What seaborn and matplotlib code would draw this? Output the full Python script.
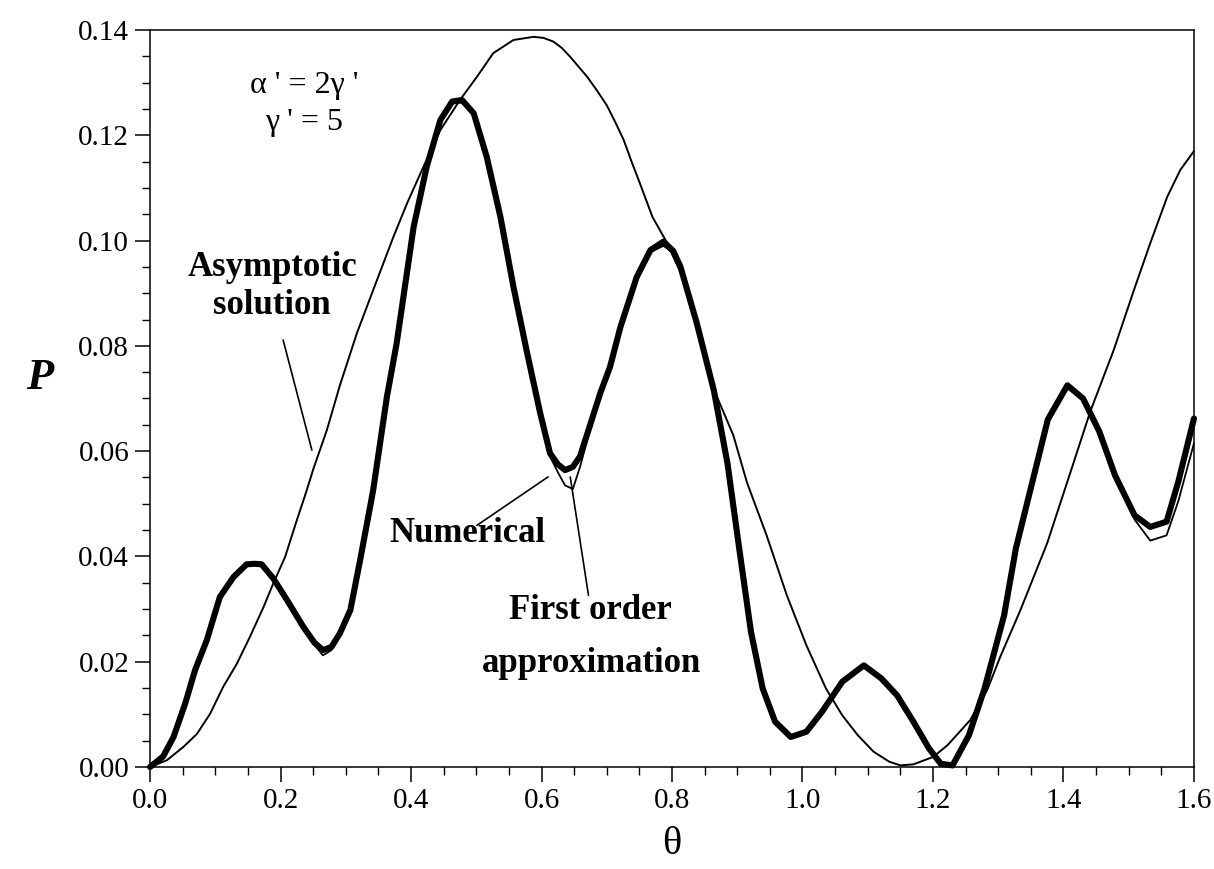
import numpy as np
import pandas as pd
import matplotlib
matplotlib.use("Agg")
import matplotlib.pyplot as plt
import seaborn as sns
from matplotlib.ticker import MultipleLocator, FormatStrFormatter

# Numerical solution
num_theta = [0.0, 0.02, 0.036, 0.054, 0.069, 0.087, 0.107, 0.128, 0.148, 0.160,
             0.171, 0.189, 0.21, 0.235, 0.252, 0.265, 0.278, 0.291, 0.307, 0.322,
             0.342, 0.363, 0.378, 0.404, 0.424, 0.445, 0.463, 0.478, 0.496, 0.516,
             0.537, 0.557, 0.578, 0.598, 0.613, 0.625, 0.636, 0.648, 0.659, 0.672,
             0.69, 0.705, 0.721, 0.746, 0.767, 0.787, 0.802, 0.813, 0.838, 0.864,
             0.885, 0.903, 0.921, 0.939, 0.958, 0.982, 1.006, 1.030, 1.061, 1.094,
             1.121, 1.145, 1.170, 1.194, 1.212, 1.230, 1.255, 1.279, 1.309, 1.327,
             1.352, 1.376, 1.406, 1.430, 1.455, 1.479, 1.509, 1.533, 1.558, 1.576,
             1.600]
num_P = [0.0, 0.002, 0.0057, 0.0121, 0.0184, 0.0241, 0.0323, 0.0361, 0.0385, 0.0386,
         0.0385, 0.0358, 0.0317, 0.0266, 0.0236, 0.0222, 0.0228, 0.0254, 0.0298, 0.0393,
         0.0526, 0.0703, 0.0805, 0.1026, 0.1140, 0.1229, 0.1264, 0.1267, 0.1242, 0.1159,
         0.1045, 0.0912, 0.0786, 0.0672, 0.0596, 0.0575, 0.0564, 0.0570, 0.0590, 0.0640,
         0.0710, 0.0760, 0.0836, 0.0931, 0.0982, 0.0998, 0.0980, 0.0950, 0.0843, 0.0716,
         0.0577, 0.0415, 0.0257, 0.0149, 0.0086, 0.0057, 0.0067, 0.0105, 0.0162, 0.0193,
         0.0168, 0.0136, 0.0086, 0.0035, 0.0006, 0.0003, 0.0060, 0.0149, 0.0288, 0.0415,
         0.0540, 0.0660, 0.0725, 0.0700, 0.0637, 0.0554, 0.0478, 0.0456, 0.0466, 0.0542,
         0.0662]

# First order approximation (same theta grid)
fo_P = [0.0, 0.002, 0.0057, 0.0121, 0.0184, 0.0241, 0.0323, 0.0361, 0.0385, 0.0386,
        0.0385, 0.0358, 0.0317, 0.0264, 0.0232, 0.0212, 0.0222, 0.0252, 0.0298, 0.0393,
        0.0526, 0.0703, 0.0805, 0.1026, 0.1140, 0.1229, 0.1262, 0.1262, 0.1240, 0.1159,
        0.1045, 0.0912, 0.0786, 0.0672, 0.0590, 0.0560, 0.0535, 0.0528, 0.0570, 0.0630,
        0.0705, 0.0760, 0.0836, 0.0931, 0.0978, 0.0990, 0.0976, 0.0950, 0.0843, 0.0716,
        0.0577, 0.0415, 0.0257, 0.0149, 0.0086, 0.0057, 0.0067, 0.0105, 0.0162, 0.0191,
        0.0168, 0.0136, 0.0086, 0.0035, 0.0006, 0.0003, 0.0060, 0.0149, 0.0288, 0.0415,
        0.0540, 0.0660, 0.0722, 0.0700, 0.0637, 0.0554, 0.0470, 0.0430, 0.0440, 0.0505,
        0.0615]

# Asymptotic solution
as_theta = [0.0, 0.026, 0.051, 0.072, 0.092, 0.112, 0.133, 0.153, 0.174, 0.189,
            0.207, 0.225, 0.240, 0.250, 0.271, 0.291, 0.317, 0.342, 0.373, 0.394,
            0.419, 0.445, 0.475, 0.501, 0.526, 0.557, 0.588, 0.603, 0.618, 0.631,
            0.644, 0.657, 0.670, 0.685, 0.700, 0.713, 0.726, 0.738, 0.751, 0.770,
            0.790, 0.815, 0.840, 0.869, 0.894, 0.915, 0.945, 0.976, 1.006, 1.036,
            1.061, 1.085, 1.109, 1.133, 1.150, 1.170, 1.200, 1.222, 1.257, 1.283,
            1.303, 1.334, 1.375, 1.416, 1.441, 1.477, 1.508, 1.533, 1.559, 1.579,
            1.600]
as_P = [0.0, 0.0013, 0.0038, 0.0063, 0.0101, 0.0152, 0.0196, 0.0247, 0.0304, 0.0349,
        0.0399, 0.0469, 0.0525, 0.0565, 0.0640, 0.0725, 0.0824, 0.0906, 0.1007, 0.1071,
        0.1140, 0.1210, 0.1267, 0.1311, 0.1356, 0.1381, 0.1387, 0.1385, 0.1378, 0.1366,
        0.1349, 0.1330, 0.1311, 0.1285, 0.1257, 0.1225, 0.1191, 0.1150, 0.1108, 0.1045,
        0.1001, 0.0935, 0.0825, 0.0703, 0.0630, 0.0540, 0.0440, 0.0326, 0.0231, 0.0149,
        0.0098, 0.0060, 0.0029, 0.0010, 0.0003, 0.0005, 0.0019, 0.0041, 0.0089, 0.0146,
        0.0209, 0.0298, 0.0425, 0.0580, 0.0675, 0.0792, 0.0906, 0.0995, 0.1083, 0.1134,
        0.1170]

num_df = pd.DataFrame({"theta": num_theta, "P": num_P})
fo_df = pd.DataFrame({"theta": num_theta, "P": fo_P})
as_df = pd.DataFrame({"theta": as_theta, "P": as_P})

sns.set_theme(style="ticks")
plt.rcParams["font.family"] = ["Liberation Serif", "DejaVu Serif"]
plt.rcParams["axes.linewidth"] = 1.1
plt.rcParams["text.color"] = "black"
plt.rcParams["axes.labelcolor"] = "black"
plt.rcParams["xtick.color"] = "black"
plt.rcParams["ytick.color"] = "black"

fig = plt.figure(figsize=(12.14, 8.69), dpi=100)
ax = fig.add_axes([0.1236, 0.1174, 0.8599, 0.8481])

line_kw = dict(ax=ax, x="theta", y="P", color="black", estimator=None,
               sort=False, clip_on=False, solid_joinstyle="round",
               solid_capstyle="round")
sns.lineplot(data=as_df, lw=1.4, **line_kw)
sns.lineplot(data=num_df, lw=4.4, **line_kw)
sns.lineplot(data=fo_df, lw=1.3, **line_kw)

ax.set_xlim(0, 1.6)
ax.set_ylim(0, 0.14)
ax.xaxis.set_major_locator(MultipleLocator(0.2))
ax.xaxis.set_minor_locator(MultipleLocator(0.05))
ax.yaxis.set_major_locator(MultipleLocator(0.02))
ax.yaxis.set_minor_locator(MultipleLocator(0.005))
ax.xaxis.set_major_formatter(FormatStrFormatter("%.1f"))
ax.yaxis.set_major_formatter(FormatStrFormatter("%.2f"))
ax.tick_params(which="major", direction="out", length=11, width=1.1,
               labelsize=21, colors="black", pad=4)
ax.tick_params(which="minor", direction="out", length=6, width=1.0, colors="black")
for s in ax.spines.values():
    s.set_visible(True)
    s.set_color("black")

ax.set_xlabel("θ", fontsize=29, va="center")
ax.xaxis.set_label_coords(0.5, -0.105)
ax.set_ylabel("P", fontsize=32, fontweight="bold", fontstyle="italic",
              rotation=0, va="center", ha="center")
ax.yaxis.set_label_coords(-0.106, 0.528)

# Parameter labels
ax.text(0.236, 0.1295, "α ' = 2γ '", fontsize=23, ha="center", va="center")
ax.text(0.236, 0.1225, "γ ' = 5", fontsize=23, ha="center", va="center")

# Curve labels with leader lines
bold = dict(fontsize=25, fontweight="bold", ha="center", va="center")
ax.text(0.187, 0.0949, "Asymptotic", **bold)
ax.text(0.187, 0.0877, "solution", **bold)
ax.plot([0.204, 0.248], [0.0811, 0.0602], color="black", lw=1.2)

ax.text(0.486, 0.0444, "Numerical", **bold)
ax.plot([0.501, 0.610], [0.0459, 0.0551], color="black", lw=1.2)

ax.text(0.675, 0.0298, "First order", **bold)
ax.text(0.676, 0.0197, "approximation", **bold)
ax.plot([0.672, 0.644], [0.0326, 0.0551], color="black", lw=1.2)

fig.savefig("out.png", dpi=100)
